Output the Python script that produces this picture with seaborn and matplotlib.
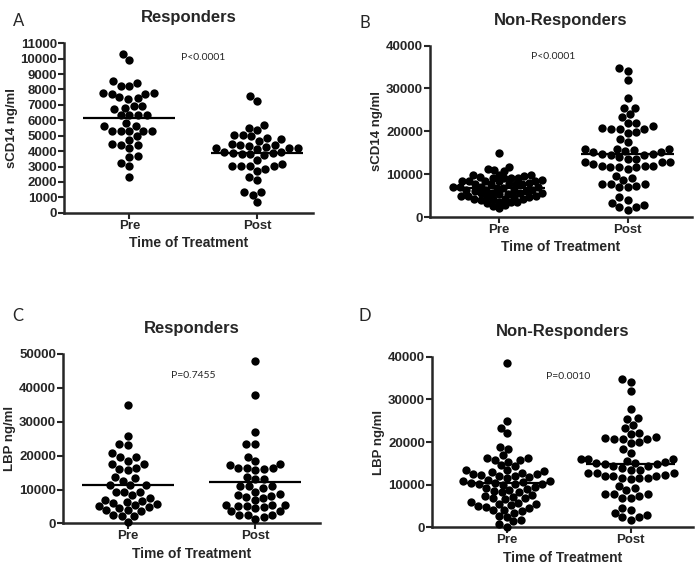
import numpy as np
import pandas as pd
import seaborn as sns
import matplotlib.pyplot as plt

# values
groups = ['Pre', 'Post']

a_pre = [10290, 9920, 8240, 8410, 8520, 8200, 7780, 7720, 7750, 7700,
         7490, 7440, 7380, 6830, 6960, 6960, 6730, 6360, 6360, 6360,
         6360, 5830, 5650, 5600, 5330, 5330, 5330, 5330, 5330, 4960,
         4750, 4380, 4210, 4470, 4380, 3700, 3650, 3240, 3020, 2300]
a_post = [7550, 7270, 5670, 5500, 5350, 5070, 4960, 5020, 4790, 4680,
          4850, 4480, 4350, 4380, 4400, 4300, 4200, 4150, 4180, 4220,
          3950, 3850, 3800, 3780, 3800, 3880, 3920, 3450, 3190, 3020,
          3020, 2700, 2850, 3020, 3060, 2150, 2330, 1360, 1360, 1180, 710]

b_pre = [14900, 11800, 11200, 11000, 10800,
         9800, 9700, 9900, 9800,
         9200, 9100, 9300, 9200, 9250,
         8500, 8600, 8400, 8500, 8550, 8450,
         7800, 7900, 7700, 7800, 7850, 7750,
         7000, 7100, 6900, 7000, 7050, 6950,
         6300, 6400, 6200, 6300, 6350, 6250,
         5600, 5700, 5500, 5600, 5650, 5550,
         4900, 5000, 4800, 4900, 4950, 4850,
         4200, 4300, 4100, 4200, 4250,
         3500, 3600, 3400, 3500,
         2800, 2700, 2100]
nonresp_post = [34730, 34100, 32000, 27740, 25410, 25550, 23310, 24010,
                21240, 20630, 22020, 20870, 19700, 19930, 20630, 20630, 21870,
                18290, 17500,
                15210, 15990, 14430, 15600, 14430, 15210, 15990, 14820, 15990, 14820, 15440,
                12790, 11630, 12410, 11240, 13570, 12020, 13960, 12020, 13570, 12020,
                12790, 11630, 12790, 11630,
                8680, 7750, 9690, 7360, 9150, 6970, 7750, 6970, 7750,
                3430, 4670, 2500, 4050, 1720, 2340, 2880]

c_pre = [34970, 25930, 23000, 23300, 20730, 19740, 19550, 17580, 17580, 18570,
         16500, 16110, 15810, 13650, 13360, 12380, 11200, 11200, 11200, 9430,
         9430, 9430, 8450, 6970, 6480, 7470, 6680, 4720, 5210, 4030,
         5700, 4520, 5310, 3540, 3830, 6100, 2060, 2060, 2550, 300]
c_post = [47900, 37900, 26900, 23500, 23400, 19750, 18300, 17300, 16500, 16100,
          15800, 16300, 16500, 17600, 13650, 13060, 13060, 11100, 11100, 11100,
          10400, 9430, 8250, 8740, 6970, 7470, 5010, 5500, 3540, 5010,
          2550, 4520, 5500, 4720, 3540, 5500, 1280, 1870, 8450, 7760,
          2550, 2550]

d_pre = [38600, 25000, 23300, 22200, 18900, 18400, 16900, 16300, 16200, 15800,
         15400, 15700, 14600, 14300,
         13500, 13500, 13300, 13000, 12800, 12600, 12500, 12200, 12100, 12000,
         11800, 11600,
         11200, 11000, 10900, 10700, 10500, 10400, 10300, 10200, 10100, 10000,
         9500, 9300, 9000, 8800, 8600, 8400, 8200,
         7600, 7400, 7200, 7000, 6800, 6600,
         6000, 5800, 5600, 5400, 5200, 5000, 4800, 4600,
         4200, 4000, 3800, 3500,
         2700, 2500, 1800, 1400, 800, 200]

panels = [
    ('A', 'Responders', 'sCD14 ng/ml', a_pre, a_post, 11000, 1000, 'P<0.0001', (0.58, 10100)),
    ('B', 'Non-Responders', 'sCD14 ng/ml', b_pre, nonresp_post, 40000, 10000, 'P<0.0001', (0.42, 37350)),
    ('C', 'Responders', 'LBP ng/ml', c_pre, c_post, 50000, 10000, 'P=0.7455', (0.51, 43600)),
    ('D', 'Non-Responders', 'LBP ng/ml', d_pre, nonresp_post, 40000, 10000, 'P=0.0010', (0.49, 35480)),
]
# axes boxes in figure fraction and x limits
boxes = [[0.092, 0.626, 0.356, 0.298], [0.615, 0.618, 0.375, 0.302],
         [0.090, 0.080, 0.368, 0.298], [0.618, 0.073, 0.374, 0.300]]
xlims = [(-0.51, 1.44), (-0.535, 1.50), (-0.51, 1.51), (-0.61, 1.51)]
letter_pos = [(0.026, 0.977), (0.522, 0.974), (0.026, 0.458), (0.522, 0.458)]
# marker size used for the swarm layout per (pre, post); smaller -> denser cloud
layout_size = [(6.0, 6.0), (4.6, 6.0), (6.0, 6.0), (5.6, 6.0)]
dot_size = 6.0

sns.set_style('ticks')
plt.rcParams['font.family'] = ['Liberation Sans', 'DejaVu Sans']
plt.rcParams['font.weight'] = 'bold'

fig = plt.figure(figsize=(6.99, 5.69), dpi=100)
axes = []

for i, (letter, title, ylab, pre, post, ymax, ystep, ptxt, ppos) in enumerate(panels):
    ax = fig.add_axes(boxes[i])
    axes.append(ax)
    for j, (grp, vals) in enumerate(zip(groups, [pre, post])):
        df = pd.DataFrame({'time': [grp] * len(vals), 'value': vals})
        sns.swarmplot(data=df, x='time', y='value', order=groups, color='black',
                      size=layout_size[i][j], ax=ax, clip_on=False)
        # mean line
        ax.hlines(np.mean(vals), j - 0.36, j + 0.36, color='black', lw=1.6, zorder=5)

    ax.set_xlim(*xlims[i])
    ax.set_ylim(0, ymax)
    ax.set_yticks(np.arange(0, ymax + 1, ystep))
    ax.set_title(title, fontsize=12, fontweight='bold', pad=15)
    ax.set_xlabel('Time of Treatment', fontsize=10, fontweight='bold', labelpad=3)
    ax.set_ylabel(ylab, fontsize=9.5, fontweight='bold', labelpad=2)
    ax.tick_params(axis='both', labelsize=9.5, width=1.5, length=4, pad=1)
    for lbl in ax.get_xticklabels() + ax.get_yticklabels():
        lbl.set_fontweight('bold')
    sns.despine(ax=ax)
    for s in ['left', 'bottom']:
        ax.spines[s].set_linewidth(1.8)
    ax.text(ppos[0], ppos[1], ptxt, ha='center', va='center', fontsize=7.5,
            fontweight='normal', family=['Lato', 'DejaVu Sans'])
    fig.text(letter_pos[i][0], letter_pos[i][1], letter, ha='center', va='top',
             fontsize=12, fontweight='normal', family=['Lato', 'DejaVu Sans'])

# lay out the swarms once, then freeze positions and enlarge the dots
fig.canvas.draw()
for ax in axes:
    for coll in ax.collections:
        if 'draw' in coll.__dict__:
            del coll.draw
            coll.set_sizes([dot_size ** 2])

fig.savefig('out.png', dpi=100)
